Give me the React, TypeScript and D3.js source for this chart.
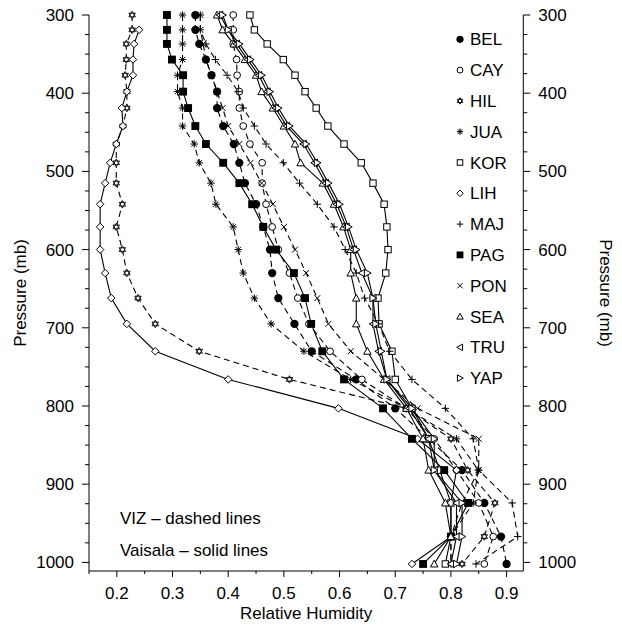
import React from "react";
import * as d3 from "d3";

const pressureLevels = [300, 319, 337, 357, 377, 398, 419, 442, 465, 489, 515, 542, 571, 600, 630, 662, 695, 730, 766, 803, 842, 882, 924, 967, 1002];

const stations = ["BEL", "CAY", "HIL", "JUA", "KOR", "LIH", "MAJ", "PAG", "PON", "SEA", "TRU", "YAP"];

const BEL = [0.341, 0.341, 0.348, 0.36, 0.37, 0.38, 0.38, 0.391, 0.41, 0.42, 0.43, 0.45, 0.463, 0.475, 0.479, 0.49, 0.519, 0.55, 0.63, 0.70, 0.76, 0.82, 0.86, 0.89, 0.90];
const CAY = [0.409, 0.409, 0.409, 0.415, 0.416, 0.42, 0.42, 0.427, 0.439, 0.461, 0.461, 0.468, 0.479, 0.49, 0.51, 0.525, 0.545, 0.583, 0.64, 0.72, 0.77, 0.81, 0.85, 0.876, 0.86];
const HIL = [0.2275, 0.2275, 0.217, 0.217, 0.215, 0.218, 0.218, 0.211, 0.199, 0.199, 0.199, 0.21, 0.199, 0.21, 0.218, 0.238, 0.269, 0.348, 0.51, 0.72, 0.80, 0.83, 0.879, 0.86, 0.82];
const JUA = [0.318, 0.318, 0.318, 0.318, 0.309, 0.309, 0.318, 0.318, 0.339, 0.348, 0.369, 0.378, 0.409, 0.418, 0.427, 0.447, 0.477, 0.536, 0.62, 0.72, 0.81, 0.849, 0.84, 0.80, 0.80];
const KOR = [0.439, 0.447, 0.47, 0.499, 0.52, 0.538, 0.558, 0.579, 0.608, 0.639, 0.66, 0.68, 0.685, 0.687, 0.683, 0.669, 0.671, 0.694, 0.70, 0.73, 0.76, 0.78, 0.80, 0.80, 0.79];
const LIH = [null, 0.24, 0.231, 0.229, 0.229, 0.218, 0.209, 0.211, 0.199, 0.188, 0.179, 0.17, 0.17, 0.17, 0.179, 0.19, 0.218, 0.269, 0.40, 0.598, 0.74, 0.81, 0.80, 0.80, 0.73];
const MAJ = [0.35, 0.35, 0.36, 0.377, 0.398, 0.418, 0.427, 0.447, 0.468, 0.499, 0.528, 0.56, 0.59, 0.61, 0.63, 0.645, 0.67, 0.69, 0.73, 0.79, 0.84, 0.85, 0.91, 0.92, 0.845];
const PAG = [0.29, 0.29, 0.29, 0.299, 0.319, 0.319, 0.328, 0.341, 0.36, 0.391, 0.42, 0.443, 0.463, 0.486, 0.518, 0.538, 0.549, 0.569, 0.608, 0.678, 0.73, 0.788, 0.831, 0.80, 0.75];
const PON = [0.35, 0.35, 0.355, 0.36, 0.37, 0.38, 0.39, 0.40, 0.42, 0.44, 0.46, 0.48, 0.50, 0.52, 0.54, 0.56, 0.58, 0.62, 0.68, 0.74, 0.85, 0.85, 0.82, 0.80, 0.80];
const SEA = [0.38, 0.39, 0.41, 0.43, 0.45, 0.46, 0.48, 0.50, 0.52, 0.53, 0.57, 0.59, 0.607, 0.62, 0.62, 0.63, 0.63, 0.65, 0.68, 0.72, 0.75, 0.76, 0.79, 0.80, 0.77];
const TRU = [0.385, 0.40, 0.415, 0.435, 0.455, 0.47, 0.485, 0.505, 0.535, 0.555, 0.575, 0.595, 0.612, 0.625, 0.64, 0.66, 0.66, 0.67, 0.685, 0.725, 0.76, 0.77, 0.81, 0.81, 0.80];
const YAP = [0.39, 0.40, 0.42, 0.44, 0.46, 0.475, 0.49, 0.51, 0.54, 0.56, 0.58, 0.60, 0.616, 0.63, 0.65, 0.66, 0.665, 0.675, 0.685, 0.73, 0.77, 0.77, 0.82, 0.82, 0.81];

const seriesValues = [BEL, CAY, HIL, JUA, KOR, LIH, MAJ, PAG, PON, SEA, TRU, YAP];
const dashedStations = ["BEL", "CAY", "HIL", "JUA", "MAJ", "PON"];
const markerTypes = ["fcircle", "ocircle", "hexstar", "asterisk", "osquare", "diamond", "plus", "fsquare", "cross", "triup", "trileft", "triright"];

const pressureTicks = [300, 400, 500, 600, 700, 800, 900, 1000];
const humidityTicks = [0.2, 0.3, 0.4, 0.5, 0.6, 0.7, 0.8, 0.9];

const FONT = "'Liberation Sans', Arial, Helvetica, sans-serif";

function Marker({ type, x, y, s }: { type: string; x: number; y: number; s: number }) {
  const h = s / 2;
  const common = { stroke: "#000", strokeWidth: 1, fill: "#fff" };
  switch (type) {
    case "fcircle":
      return <circle cx={x} cy={y} r={h * 1.1} fill="#000" />;
    case "ocircle":
      return <circle cx={x} cy={y} r={h * 0.9} {...common} />;
    case "osquare":
      return <rect x={x - h * 0.85} y={y - h * 0.85} width={h * 1.7} height={h * 1.7} {...common} />;
    case "fsquare":
      return <rect x={x - h * 1.05} y={y - h * 1.05} width={2.1 * h} height={2.1 * h} fill="#000" />;
    case "diamond":
      return <path d={`M${x},${y - h}L${x + h},${y}L${x},${y + h}L${x - h},${y}Z`} {...common} />;
    case "triup":
      return <path d={`M${x},${y - h}L${x + h},${y + h * 0.8}L${x - h},${y + h * 0.8}Z`} {...common} />;
    case "trileft":
      return <path d={`M${x - h},${y}L${x + h * 0.8},${y - h}L${x + h * 0.8},${y + h}Z`} {...common} />;
    case "triright":
      return <path d={`M${x + h},${y}L${x - h * 0.8},${y - h}L${x - h * 0.8},${y + h}Z`} {...common} />;
    case "plus":
      return <path d={`M${x - h},${y}H${x + h}M${x},${y - h}V${y + h}`} stroke="#000" strokeWidth={1} fill="none" />;
    case "cross": {
      const k = h * 0.8;
      return <path d={`M${x - k},${y - k}L${x + k},${y + k}M${x - k},${y + k}L${x + k},${y - k}`} stroke="#000" strokeWidth={1} fill="none" />;
    }
    case "asterisk": {
      const k = h * 0.72;
      return (
        <path
          d={`M${x - h},${y}H${x + h}M${x},${y - h}V${y + h}M${x - k},${y - k}L${x + k},${y + k}M${x - k},${y + k}L${x + k},${y - k}`}
          stroke="#000"
          strokeWidth={1}
          fill="none"
        />
      );
    }
    case "hexstar": {
      const r = h;
      const t1 = [0, 1, 2].map((i) => [x + r * Math.sin((i * 2 * Math.PI) / 3), y - r * Math.cos((i * 2 * Math.PI) / 3)]);
      const t2 = [0, 1, 2].map((i) => [x - r * Math.sin((i * 2 * Math.PI) / 3), y + r * Math.cos((i * 2 * Math.PI) / 3)]);
      const p = (t: number[][]) => `M${t[0][0]},${t[0][1]}L${t[1][0]},${t[1][1]}L${t[2][0]},${t[2][1]}Z`;
      return <path d={p(t1) + p(t2)} stroke="#000" strokeWidth={0.9} fill="#fff" />;
    }
    default:
      return null;
  }
}

export default function App() {
  const W = 622;
  const H = 626;
  const xLeft = 89;
  const xRight = 523.3;
  const yTop = 15;
  const yBottom = 571;
  const x = d3.scaleLinear().domain([0.15, 0.93]).range([xLeft, xRight]);
  const y = d3.scaleLinear().domain([300, 1011]).range([yTop, yBottom]);

  const line = d3
    .line<[number, number | null]>()
    .defined((d) => d[1] != null)
    .x((d) => x(d[1] as number))
    .y((d) => y(d[0]));

  const minorP = d3.range(300, 1001, 25).filter((p) => p % 100 !== 0);
  const minorH = d3.range(0.15, 0.93, 0.05).map((v) => Math.round(v * 100) / 100).filter((v) => Math.round(v * 100) % 10 !== 0);

  const fs = 17;

  return (
    <svg width={W} height={H} style={{ position: "absolute", left: 0, top: 0, background: "#fff" }} fontFamily={FONT}>
      <rect width={W} height={H} fill="#fff" />
      {seriesValues.map((vals, i) => {
        const data = pressureLevels.map((p, j) => [p, vals[j]] as [number, number | null]);
        const dashed = dashedStations.includes(stations[i]);
        return (
          <path
            key={"l" + i}
            d={line(data) || ""}
            fill="none"
            stroke="#000"
            strokeWidth={1.1}
            strokeDasharray={dashed ? "6,4" : undefined}
          />
        );
      })}
      {seriesValues.map((vals, i) =>
        pressureLevels.map((p, j) =>
          vals[j] == null ? null : (
            <Marker key={`m${i}-${j}`} type={markerTypes[i]} x={x(vals[j] as number)} y={y(p)} s={7.5} />
          )
        )
      )}
      <g stroke="#000" strokeWidth={1}>
        <line x1={xLeft} x2={xLeft} y1={yTop} y2={yBottom} />
        <line x1={xRight} x2={xRight} y1={yTop} y2={yBottom} />
        <line x1={xLeft} x2={xRight} y1={yBottom} y2={yBottom} />
        {pressureTicks.map((p) => (
          <g key={"pt" + p}>
            <line x1={xLeft - 7} x2={xLeft} y1={y(p)} y2={y(p)} />
            <line x1={xRight} x2={xRight + 7} y1={y(p)} y2={y(p)} />
          </g>
        ))}
        {minorP.map((p) => (
          <g key={"pm" + p}>
            <line x1={xLeft - 4} x2={xLeft} y1={y(p)} y2={y(p)} />
            <line x1={xRight} x2={xRight + 4} y1={y(p)} y2={y(p)} />
          </g>
        ))}
        {humidityTicks.map((v) => (
          <line key={"ht" + v} x1={x(v)} x2={x(v)} y1={yBottom} y2={yBottom + 6} />
        ))}
        {minorH.map((v) => (
          <line key={"hm" + v} x1={x(v)} x2={x(v)} y1={yBottom} y2={yBottom + 3} />
        ))}
      </g>
      {pressureTicks.map((p) => (
        <g key={"pl" + p} fontSize={fs} fill="#000">
          <text x={xLeft - 15} y={y(p) + 6} textAnchor="end">{p}</text>
          <text x={xRight + 15} y={y(p) + 6} textAnchor="start">{p}</text>
        </g>
      ))}
      {humidityTicks.map((v) => (
        <text key={"hl" + v} x={x(v)} y={yBottom + 28} textAnchor="middle" fontSize={fs}>
          {v.toFixed(1)}
        </text>
      ))}
      <text x={(xLeft + xRight) / 2} y={619} textAnchor="middle" fontSize={fs}>Relative Humidity</text>
      <text transform={`translate(26,${(yTop + yBottom) / 2}) rotate(-90)`} textAnchor="middle" fontSize={fs}>Pressure (mb)</text>
      <text transform={`translate(600,${(yTop + yBottom) / 2}) rotate(90)`} textAnchor="middle" fontSize={fs}>Pressure (mb)</text>
      <text x={120} y={524} fontSize={fs}>VIZ – dashed lines</text>
      <text x={120} y={556} fontSize={fs}>Vaisala – solid lines</text>
      {stations.map((s, i) => (
        <g key={"lg" + s}>
          <Marker type={markerTypes[i]} x={460} y={39.3 + i * 30.8} s={6.5} />
          <text x={470} y={39.3 + i * 30.8 + 6} fontSize={fs}>{s}</text>
        </g>
      ))}
    </svg>
  );
}
